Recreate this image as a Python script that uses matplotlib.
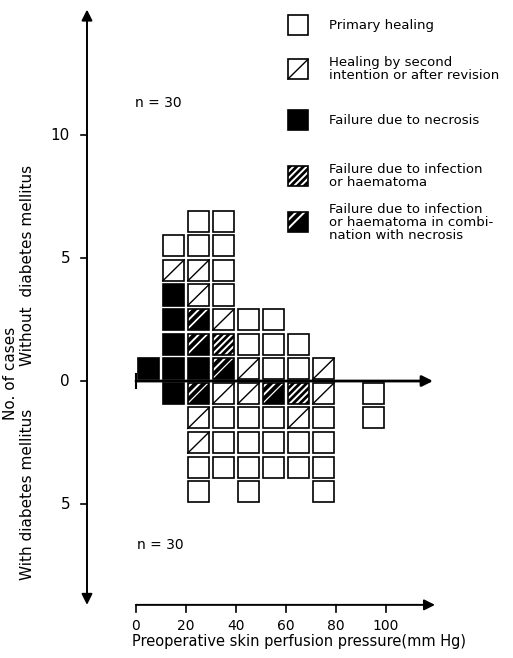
import matplotlib
matplotlib.use("Agg")
import matplotlib.pyplot as plt
from matplotlib.patches import Rectangle, Polygon

# pressure classes (mmHg, class centres) and the stacked cases in each class,
# listed from the axis outwards
# P primary healing, S second intention/revision, N necrosis,
# I infection/haematoma, C infection/haematoma + necrosis
bins = [5, 15, 25, 35, 45, 55, 65, 75, 85, 95]
without_dm = ["N", "NNNNSP", "NCCSSPP", "CISPPPP", "SPP", "PPP", "PP", "S", "", ""]
with_dm = ["", "N", "CSSPP", "SPPP", "SPPPP", "CPPP", "ISPP", "SPPPP", "", "PP"]

legend_kinds = ["P", "S", "N", "I", "C"]
legend_labels = ["Primary healing",
                 "Healing by second\nintention or after revision",
                 "Failure due to necrosis",
                 "Failure due to infection\nor haematoma",
                 "Failure due to infection\nor haematoma in combi-\nnation with necrosis"]

y_ticks = [10, 5, 0, -5]
y_ticklabels = ["10", "5", "0", "5"]
x_ticks = [0, 20, 40, 60, 80, 100]

plt.rcParams['hatch.linewidth'] = 1.4

fig = plt.figure(figsize=(5.13, 6.58), dpi=100)
ax = fig.add_axes([0, 0, 1, 1])
ax.set_xlim(-54.4, 150.8)
ax.set_ylim(-11.26, 15.49)
ax.axis('off')

W, H = 8.6, 0.86


def draw_box(x, bottom, kind, w=W, h=H):
    left = x - w / 2
    top = bottom + h
    right = left + w
    if kind == "N":
        ax.add_patch(Rectangle((left, bottom), w, h, fc='black', ec='black', lw=1.2, zorder=3))
        return
    if kind == "I":
        ax.add_patch(Rectangle((left, bottom), w, h, fc='black', ec='white', lw=0,
                               hatch='/////', zorder=3))
    elif kind == "C":
        ax.add_patch(Rectangle((left, bottom), w, h, fc='black', lw=0, zorder=3))
        ax.add_patch(Polygon([(left, bottom), (left, top), (right, top)],
                             closed=True, fc='black', ec='white', lw=0,
                             hatch='////', zorder=3))
    else:
        ax.add_patch(Rectangle((left, bottom), w, h, fc='white', lw=0, zorder=3))
        if kind == "S":
            ax.plot([left, right], [bottom, top], color='black', lw=1.0, zorder=4)
    ax.add_patch(Rectangle((left, bottom), w, h, fill=False, ec='black', lw=1.2, zorder=4))


for x, stack in zip(bins, without_dm):
    for k, kind in enumerate(stack):
        draw_box(x, k + 0.07, kind)

for x, stack in zip(bins, with_dm):
    for k, kind in enumerate(stack):
        draw_box(x, -(k + 1) + 0.07, kind)

# horizontal axis through the middle
ax.annotate('', xy=(118.8, 0), xytext=(0, 0),
            arrowprops=dict(arrowstyle='-|>', lw=2, color='black', mutation_scale=16,
                            shrinkA=0, shrinkB=0), zorder=5)
ax.plot([0, 0], [-0.27, 0.27], color='black', lw=1.5, zorder=5)

# vertical axis
ax.annotate('', xy=(-19.6, 15.1), xytext=(-19.6, -9.1),
            arrowprops=dict(arrowstyle='<|-|>', lw=1.4, color='black', mutation_scale=16,
                            shrinkA=0, shrinkB=0))
for t, lab in zip(y_ticks, y_ticklabels):
    ax.plot([-22.2, -19.6], [t, t], color='black', lw=1.2)
    ax.text(-26.4, t, lab, ha='right', va='center', fontsize=11)

ax.text(-50.2, 0.3, "No. of cases", rotation=90, ha='center', va='center', fontsize=11)
ax.text(-43.2, 4.7, "Without  diabetes mellitus", rotation=90, ha='center', va='center', fontsize=11)
ax.text(-43.2, -4.6, "With diabetes mellitus", rotation=90, ha='center', va='center', fontsize=11)

# bottom axis
ax.annotate('', xy=(119.6, -9.1), xytext=(0, -9.1),
            arrowprops=dict(arrowstyle='-|>', lw=1.4, color='black', mutation_scale=16,
                            shrinkA=0, shrinkB=0))
for t in x_ticks:
    ax.plot([t, t], [-9.1, -9.38], color='black', lw=1.2)
    ax.text(t, -9.69, str(t), ha='center', va='top', fontsize=10)
ax.text(-1.6, -10.3, "Preoperative skin perfusion pressure(mm Hg)", ha='left', va='top',
        fontsize=10.5)

ax.text(-0.4, 11.3, "n = 30", ha='left', va='center', fontsize=10)
ax.text(0.4, -6.67, "n = 30", ha='left', va='center', fontsize=10)

# legend
leg_y = [14.47, 12.68, 10.61, 8.33, 6.46]
for kind, lab, y in zip(legend_kinds, legend_labels, leg_y):
    draw_box(64.8, y - 0.4, kind, w=8.0, h=0.8)
    ax.text(77.2, y, lab, ha='left', va='center', fontsize=9.5, linespacing=1.0)

fig.savefig("out.png", dpi=100)
